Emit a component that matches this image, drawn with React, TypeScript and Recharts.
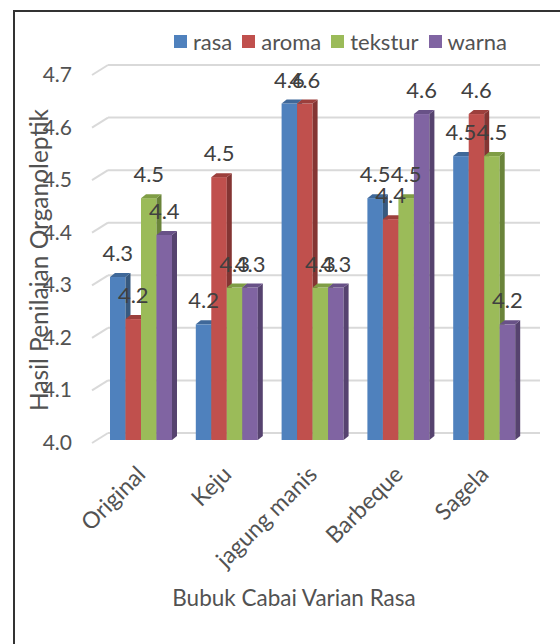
import React from "react";
import { BarChart, Bar, XAxis, YAxis, CartesianGrid, LabelList } from "recharts";

// Hasil penilaian organoleptik per varian rasa bubuk cabai
const categories = ["Original", "Keju", "jagung manis", "Barbeque", "Sagela"];
const rasa = [4.31, 4.22, 4.64, 4.46, 4.54];
const aroma = [4.23, 4.5, 4.64, 4.42, 4.62];
const tekstur = [4.46, 4.29, 4.29, 4.46, 4.54];
const warna = [4.39, 4.29, 4.29, 4.62, 4.22];
const yTicks = [4.0, 4.1, 4.2, 4.3, 4.4, 4.5, 4.6, 4.7];

const data = categories.map((name, i) => ({
  name,
  rasa: rasa[i],
  aroma: aroma[i],
  tekstur: tekstur[i],
  warna: warna[i],
}));

const series = [
  { key: "rasa", face: "#4F81BD", side: "#37597f", top: "#3f6899" },
  { key: "aroma", face: "#C0504D", side: "#843533", top: "#9c3f3c" },
  { key: "tekstur", face: "#9BBB59", side: "#6a843a", top: "#7f9d45" },
  { key: "warna", face: "#8064A2", side: "#56436f", top: "#685187" },
];

const FONT = "Lato, 'Noto Sans', sans-serif";
const INK = "#525252";
const DX = 5; // 3d depth
const DY = 4;

const make3D = (face: string, side: string, top: string) => (p: any) => {
  const { x, y, width, height } = p;
  if (!height || height <= 0) return <g />;
  const r = x + width;
  const b = y + height;
  return (
    <g>
      <rect x={x} y={y} width={width} height={height} fill={face} />
      <polygon points={`${r},${y} ${r + DX},${y - DY} ${r + DX},${b - DY} ${r},${b}`} fill={side} />
      <polygon points={`${x},${y} ${x + DX},${y - DY} ${r + DX},${y - DY} ${r},${y}`} fill={top} />
    </g>
  );
};

// back-wall gridline with the little diagonal on the side wall
const gridLine = (p: any) => {
  const { x1, x2, y1, index } = p;
  const back = y1 - 7;
  return (
    <g key={`gl-${index}`}>
      <line x1={x1 - 6} y1={y1 + 3} x2={x1 + 10} y2={back} stroke="#d9d9d9" strokeWidth={2} />
      <line x1={x1 + 10} y1={back} x2={x2 + 13} y2={back} stroke="#d9d9d9" strokeWidth={2} />
    </g>
  );
};

const YTick = (p: any) => (
  <text x={72} y={p.y + 10} textAnchor="end" fontSize={21} fontFamily={FONT} fill={INK}>
    {Number(p.payload.value).toFixed(1)}
  </text>
);

const XTick = (p: any) => (
  <text
    transform={`translate(${p.x + 6},${p.y + 36}) rotate(-45)`}
    textAnchor="end"
    fontSize={23}
    fontFamily={FONT}
    fill={INK}
  >
    {p.payload.value}
  </text>
);

const valueLabel = (p: any) => (
  <text
    x={p.x + p.width / 2}
    y={p.y - 16}
    textAnchor="middle"
    fontSize={22}
    fontFamily={FONT}
    fill="#404040"
  >
    {Number(p.value).toFixed(1)}
  </text>
);

function LegendRow() {
  return (
    <div
      style={{
        position: "absolute",
        left: 174,
        top: 30,
        display: "flex",
        alignItems: "center",
        height: 22,
        fontFamily: FONT,
        fontSize: 22,
        color: INK,
        whiteSpace: "nowrap",
      }}
    >
      {series.map((s) => (
        <div key={s.key} style={{ display: "flex", alignItems: "center", marginRight: 10 }}>
          <span style={{ width: 13, height: 13, background: s.face, marginRight: 6, display: "inline-block" }} />
          <span>{s.key}</span>
        </div>
      ))}
    </div>
  );
}

export default function App() {
  return (
    <div
      style={{
        position: "fixed",
        left: 0,
        top: 0,
        width: 560,
        height: 644,
        background: "#fff",
        overflow: "hidden",
      }}
    >
      <div
        style={{
          position: "absolute",
          left: 13,
          top: 10,
          width: 700,
          height: 800,
          borderLeft: "2px solid #333",
          borderTop: "2px solid #333",
        }}
      />
      <div style={{ position: "absolute", left: 0, top: 0 }}>
        <BarChart
          width={560}
          height={644}
          data={data}
          margin={{ top: 72, right: 33, bottom: 0, left: 0 }}
          barSize={15.5}
          barGap={0}
        >
          <CartesianGrid vertical={false} horizontal={gridLine} />
          <YAxis
            domain={[4.0, 4.7]}
            ticks={yTicks}
            width={98}
            axisLine={false}
            tickLine={false}
            tick={YTick}
            allowDataOverflow
            label={{
              content: () => (
                <text
                  transform="translate(48,260) rotate(-90)"
                  textAnchor="middle"
                  fontSize={24.5}
                  fontFamily={FONT}
                  fill={INK}
                >
                  Hasil Penilaian Organoleptik
                </text>
              ),
            }}
          />
          <XAxis
            dataKey="name"
            height={204}
            axisLine={false}
            tickLine={false}
            tickSize={0}
            tickMargin={0}
            tick={XTick}
            interval={0}
            label={{
              content: () => (
                <text x={294} y={606} textAnchor="middle" fontSize={22.5} fontFamily={FONT} fill={INK}>
                  Bubuk Cabai Varian Rasa
                </text>
              ),
            }}
          />
          {series.map((s) => (
            <Bar
              key={s.key}
              dataKey={s.key}
              isAnimationActive={false}
              shape={make3D(s.face, s.side, s.top)}
            >
              <LabelList dataKey={s.key} content={valueLabel} />
            </Bar>
          ))}
        </BarChart>
      </div>
      <LegendRow />
    </div>
  );
}
